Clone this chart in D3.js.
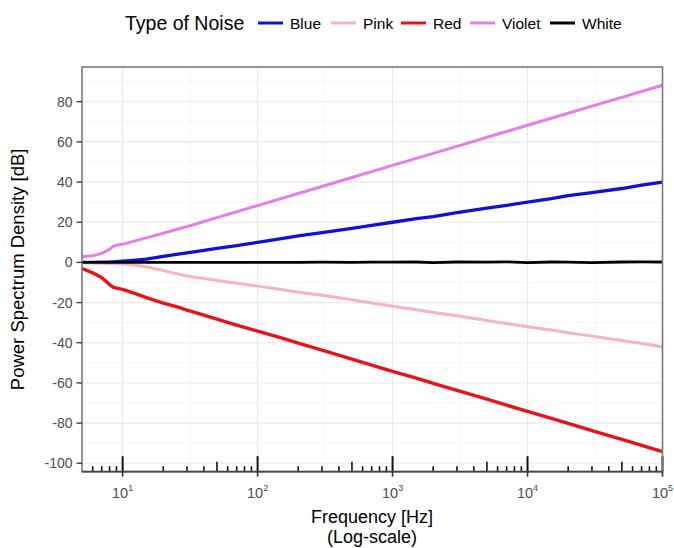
<!DOCTYPE html>
<html>
<head>
<meta charset="utf-8">
<script src="https://cdn.jsdelivr.net/npm/d3@7"></script>
<style>
  html, body { margin: 0; padding: 0; background: #fff; }
  svg { display: block; font-family: "Liberation Sans", Arial, sans-serif; }
</style>
</head>
<body>
<svg id="chart" width="674" height="548"></svg>
<script>
// ---- data ----
const freqs  = [5, 6, 7, 8, 8.5, 9, 10, 12, 15, 20, 25, 30, 40, 50, 70, 100, 150, 200, 300, 500, 700,
                1000, 1500, 2000, 3000, 5000, 7000, 10000, 15000, 20000, 30000, 50000, 70000, 100000];
const blue   = [0, 0, 0.1, 0.2, 0.3, 0.4, 0.6, 1.0, 1.6, 3.0, 4.0, 4.8, 6.0, 7.0, 8.4, 10.0, 11.8, 13.2, 14.8, 17.0, 18.5,
                20.0, 21.8, 22.8, 24.8, 27.0, 28.4, 30.0, 31.8, 33.3, 34.8, 36.8, 38.5, 40.0];
const pink   = [-0.2, -0.3, -0.4, -0.5, -0.6, -0.7, -0.8, -1.3, -2.2, -4.0, -5.6, -6.8, -8.0, -9.0, -10.4, -11.8, -13.5, -14.8, -16.4, -18.6, -20.2,
                -21.8, -23.6, -24.9, -26.6, -28.9, -30.4, -32.0, -33.7, -35.0, -36.7, -38.9, -40.4, -42.0];
const red    = [-3.0, -5.2, -7.5, -11.0, -12.3, -12.8, -13.4, -15.2, -17.5, -20.3, -22.0, -23.7, -26.3, -28.2, -31.2, -34.2, -37.6, -40.2, -43.7, -48.2, -51.1,
                -54.2, -57.6, -60.2, -63.7, -68.1, -71.1, -74.2, -77.6, -80.1, -83.7, -88.1, -91.1, -94.2];
const violet = [2.8, 3.3, 4.5, 6.5, 8.0, 8.5, 9.0, 10.5, 12.2, 14.5, 16.4, 17.8, 20.4, 22.3, 25.2, 28.3, 31.8, 34.3, 37.8, 42.3, 45.2,
                48.3, 51.8, 54.3, 57.8, 62.3, 65.2, 68.3, 71.8, 74.3, 77.8, 82.2, 85.1, 88.2];
const white  = [0, 0, 0, 0, 0, 0, 0, 0, 0, 0, 0, 0, 0, 0, 0, 0, 0, 0, 0.1, 0, 0.1,
                0.1, 0.2, -0.1, 0.2, 0.1, 0.3, -0.1, 0.2, 0.1, -0.1, 0.2, 0.3, 0.2];
const seriesNames  = ["Blue", "Pink", "Red", "Violet", "White"];
const seriesColors = ["#1010d8", "#f6b3c0", "#e81218", "#e57ee5", "#000000"];
const yTicks = [-100, -80, -60, -40, -20, 0, 20, 40, 60, 80];
const xTickExps = [1, 2, 3, 4, 5];

// ---- layout ----
const svg = d3.select("#chart");
const P = { left: 82, right: 662.5, top: 67, bottom: 471.7 };

const x = d3.scaleLog().domain([5, 100000]).range([P.left, P.right]);
const y = d3.scaleLinear().domain([-104.2, 97.3]).range([P.bottom, P.top]);

// grid
const g = svg.append("g");
const minorY = d3.range(-90, 100, 20);
g.selectAll(".ygm").data(minorY).join("line")
  .attr("x1", P.left).attr("x2", P.right)
  .attr("y1", d => y(d)).attr("y2", d => y(d))
  .attr("stroke", "#f3f3f3").attr("stroke-width", 0.8);
g.selectAll(".ygM").data(yTicks).join("line")
  .attr("x1", P.left).attr("x2", P.right)
  .attr("y1", d => y(d)).attr("y2", d => y(d))
  .attr("stroke", "#e8e8e8").attr("stroke-width", 1.1);
const minorX = [0.5, 1.5, 2.5, 3.5, 4.5].map(e => Math.pow(10, e)).filter(v => v > 5);
g.selectAll(".xgm").data(minorX).join("line")
  .attr("x1", d => x(d)).attr("x2", d => x(d))
  .attr("y1", P.top).attr("y2", P.bottom)
  .attr("stroke", "#f3f3f3").attr("stroke-width", 0.8);
g.selectAll(".xgM").data(xTickExps.map(e => Math.pow(10, e))).join("line")
  .attr("x1", d => x(d)).attr("x2", d => x(d))
  .attr("y1", P.top).attr("y2", P.bottom)
  .attr("stroke", "#e8e8e8").attr("stroke-width", 1.1);

// lines
const seriesVals = [blue, pink, red, violet, white];
const widths = [3.3, 3, 3.4, 3, 2.8];
const line = d3.line().x(d => x(d[0])).y(d => y(d[1]));
seriesVals.forEach((vals, i) => {
  svg.append("path")
    .datum(freqs.map((f, j) => [f, vals[j]]))
    .attr("d", line)
    .attr("fill", "none")
    .attr("stroke", seriesColors[i])
    .attr("stroke-width", widths[i])
    .attr("stroke-linejoin", "round");
});

// log ticks inside the panel (bottom)
const logTicks = [];
for (let e = 0; e <= 5; e++) {
  for (let k = 1; k <= 9; k++) {
    const v = k * Math.pow(10, e);
    if (v > 5.01 && v <= 100000) logTicks.push({ v, k });
  }
}
svg.selectAll(".lt").data(logTicks).join("line")
  .attr("x1", d => x(d.v)).attr("x2", d => x(d.v))
  .attr("y1", P.bottom)
  .attr("y2", d => P.bottom - (d.k === 1 ? 15.5 : d.k === 5 ? 10 : 5.5))
  .attr("stroke", "#111").attr("stroke-width", d => d.k === 1 ? 2 : 1.6);

// panel border
svg.append("rect")
  .attr("x", P.left).attr("y", P.top)
  .attr("width", P.right - P.left).attr("height", P.bottom - P.top)
  .attr("fill", "none").attr("stroke", "#7a7a7a").attr("stroke-width", 1.6);
svg.append("line")
  .attr("x1", P.left).attr("x2", P.right).attr("y1", P.bottom).attr("y2", P.bottom)
  .attr("stroke", "#444").attr("stroke-width", 1.8);

// y axis
const yAxis = svg.append("g");
yAxis.selectAll("line").data(yTicks).join("line")
  .attr("x1", P.left - 5.5).attr("x2", P.left)
  .attr("y1", d => y(d)).attr("y2", d => y(d))
  .attr("stroke", "#333").attr("stroke-width", 1.3);
yAxis.selectAll("text").data(yTicks).join("text")
  .attr("x", P.left - 9.5).attr("y", d => y(d))
  .attr("dy", "0.36em").attr("text-anchor", "end")
  .attr("font-size", 14).attr("fill", "#4d4d4d")
  .text(d => d);

// x axis
const xAxis = svg.append("g");
xAxis.selectAll("line").data(xTickExps).join("line")
  .attr("x1", d => x(Math.pow(10, d))).attr("x2", d => x(Math.pow(10, d)))
  .attr("y1", P.bottom).attr("y2", P.bottom + 5)
  .attr("stroke", "#333").attr("stroke-width", 1.6);
const xt = xAxis.selectAll("text").data(xTickExps).join("text")
  .attr("x", d => x(Math.pow(10, d))).attr("y", 498)
  .attr("text-anchor", "middle").attr("font-size", 14.5).attr("fill", "#4d4d4d");
xt.append("tspan").text("10");
xt.append("tspan").attr("font-size", 9).attr("dy", -7).text(d => d);

// axis titles
svg.append("text").attr("x", 372).attr("y", 523)
  .attr("text-anchor", "middle").attr("font-size", 18).attr("fill", "#000")
  .text("Frequency [Hz]");
svg.append("text").attr("x", 372).attr("y", 542.5)
  .attr("text-anchor", "middle").attr("font-size", 18).attr("fill", "#000")
  .text("(Log-scale)");
svg.append("text")
  .attr("transform", `translate(24,${(P.top + P.bottom) / 2}) rotate(-90)`)
  .attr("text-anchor", "middle").attr("font-size", 18.5).attr("fill", "#000")
  .text("Power Spectrum Density [dB]");

// legend
const legend = svg.append("g");
legend.append("text").attr("x", 125).attr("y", 29.5)
  .attr("font-size", 19.5).attr("fill", "#000").text("Type of Noise");
const keyX = [258, 331, 401, 470, 550];
const lg = legend.selectAll(".k").data(seriesNames).join("g");
lg.append("line")
  .attr("x1", (d, i) => keyX[i]).attr("x2", (d, i) => keyX[i] + 25)
  .attr("y1", 23).attr("y2", 23)
  .attr("stroke", (d, i) => seriesColors[i]).attr("stroke-width", 3);
lg.append("text")
  .attr("x", (d, i) => keyX[i] + 32).attr("y", 29)
  .attr("font-size", 15.5).attr("fill", "#000")
  .text(d => d);
</script>
</body>
</html>
